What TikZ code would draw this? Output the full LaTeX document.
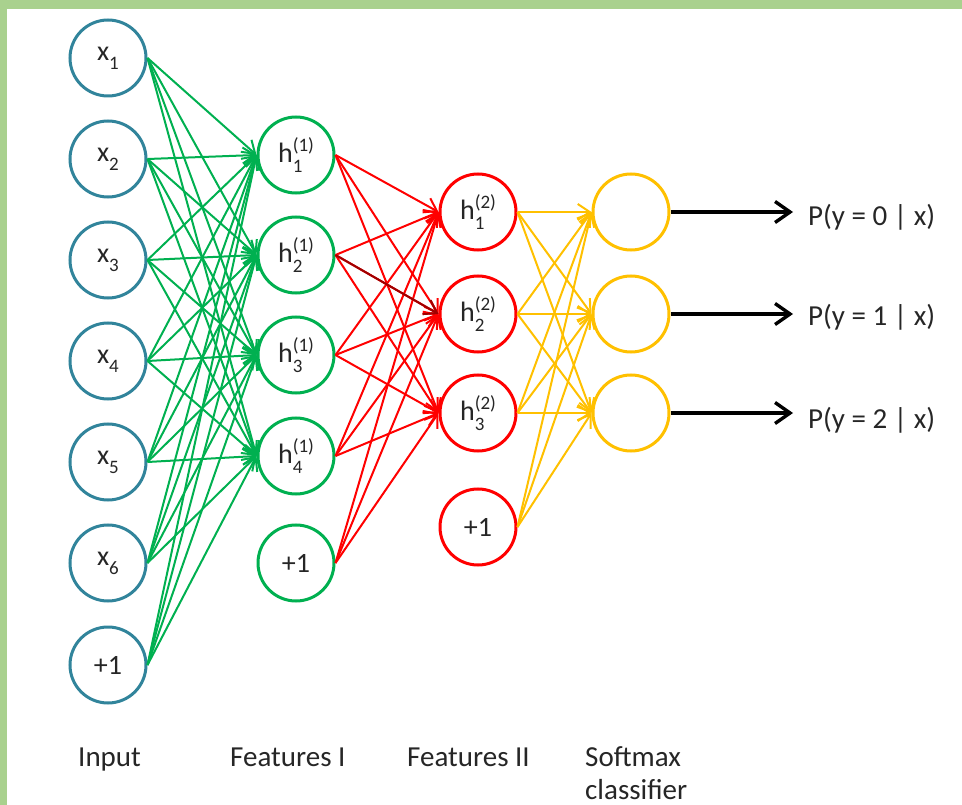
\documentclass[tikz,border=0pt]{standalone}
\usepackage{fontspec}
\setmainfont{Carlito}
\usetikzlibrary{arrows.meta}

\definecolor{frame}{HTML}{A9D18E}
\definecolor{inblue}{HTML}{31849B}
\definecolor{fgreen}{HTML}{00B050}
\definecolor{fred}{HTML}{FF0000}
\definecolor{fdark}{HTML}{A00000}
\definecolor{fyellow}{HTML}{FFC000}
\definecolor{ink}{HTML}{262626}

% small indices placed next to a letter
\newcommand\idxfont{\fontsize{19}{20}\selectfont}
\newcommand\xlab[1]{x\raisebox{-0.32em}{\idxfont #1}}
\newcommand\hlab[2]{h\rlap{\raisebox{-0.36em}{\idxfont #2}}\raisebox{0.40em}{\idxfont(#1)}}

\begin{document}
\begin{tikzpicture}[x=1pt,y=-1pt,
  neuron/.style={circle,line width=3pt,minimum size=76pt,inner sep=0pt,
    fill=white,text=ink,font=\fontsize{28}{30}\selectfont},
  inputn/.style={neuron,draw=inblue},
  hidA/.style={neuron,draw=fgreen},
  hidB/.style={neuron,draw=fred},
  outn/.style={neuron,draw=fyellow},
  link/.style={line width=2pt,-{Straight Barb[length=12pt,width=16pt,line width=2pt]}},
  result/.style={line width=3.8pt,-{Straight Barb[length=15pt,width=21pt,line width=3.4pt]}},
  lab/.style={text=ink,font=\fontsize{29}{35}\selectfont,inner sep=0pt}]

\useasboundingbox (0,0) rectangle (962,805);
\fill[frame] (0,0) rectangle (962,9);
\fill[frame] (0,0) rectangle (7,805);

% input layer
\node[inputn] (x1) at (108,58)  {\xlab{1}};
\node[inputn] (x2) at (108,159) {\xlab{2}};
\node[inputn] (x3) at (108,260) {\xlab{3}};
\node[inputn] (x4) at (108,361) {\xlab{4}};
\node[inputn] (x5) at (108,462) {\xlab{5}};
\node[inputn] (x6) at (108,563) {\xlab{6}};
\node[inputn] (xb) at (108,665) {+1};

% first feature layer
\node[hidA] (a1) at (296,155) {\hlab{1}{1}};
\node[hidA] (a2) at (296,255) {\hlab{1}{2}};
\node[hidA] (a3) at (296,355) {\hlab{1}{3}};
\node[hidA] (a4) at (296,456) {\hlab{1}{4}};
\node[hidA] (ab) at (296,563) {+1};

% second feature layer
\node[hidB] (b1) at (478,212) {\hlab{2}{1}};
\node[hidB] (b2) at (478,314) {\hlab{2}{2}};
\node[hidB] (b3) at (478,413) {\hlab{2}{3}};
\node[hidB] (bb) at (478,527) {+1};

% softmax units
\node[outn] (s1) at (631,212) {};
\node[outn] (s2) at (631,314) {};
\node[outn] (s3) at (631,413) {};

% connections
\foreach \s in {x1,x2,x3,x4,x5,x6,xb}
  \foreach \t in {a1,a2,a3,a4}
    \draw[link,fgreen] (\s.east) -- (\t.west);
\foreach \s in {a1,a2,a3,a4,ab}
  \foreach \t in {b1,b2,b3}
    \draw[link,fred] (\s.east) -- (\t.west);
\draw[link,fdark] (a2.east) -- (b2.west);
\foreach \s in {b1,b2,b3,bb}
  \foreach \t in {s1,s2,s3}
    \draw[link,fyellow] (\s.east) -- (\t.west);

% class probabilities
\coordinate (e0) at (793,212);
\coordinate (e1) at (793,314);
\coordinate (e2) at (793,413);
\draw[result] (s1.east) -- (e0);
\draw[result] (s2.east) -- (e1);
\draw[result] (s3.east) -- (e2);
\node[lab,anchor=west] (p0) at (808,217) {P(y = 0 | x)};
\node[lab,anchor=west] (p1) at (808,317) {P(y = 1 | x)};
\node[lab,anchor=west] (p2) at (808,420) {P(y = 2 | x)};

% layer captions
\node[lab,anchor=base west] (c1) at (78,766) {Input};
\node[lab,anchor=base west] (c2) at (230,766) {Features I};
\node[lab,anchor=base west] (c3) at (407,766) {Features II};
\node[lab,anchor=base west] (c4) at (585,766) {Softmax};
\node[lab,anchor=base west,text depth=0pt] (c5) at (585,799) {classifier};
\end{tikzpicture}
\end{document}
